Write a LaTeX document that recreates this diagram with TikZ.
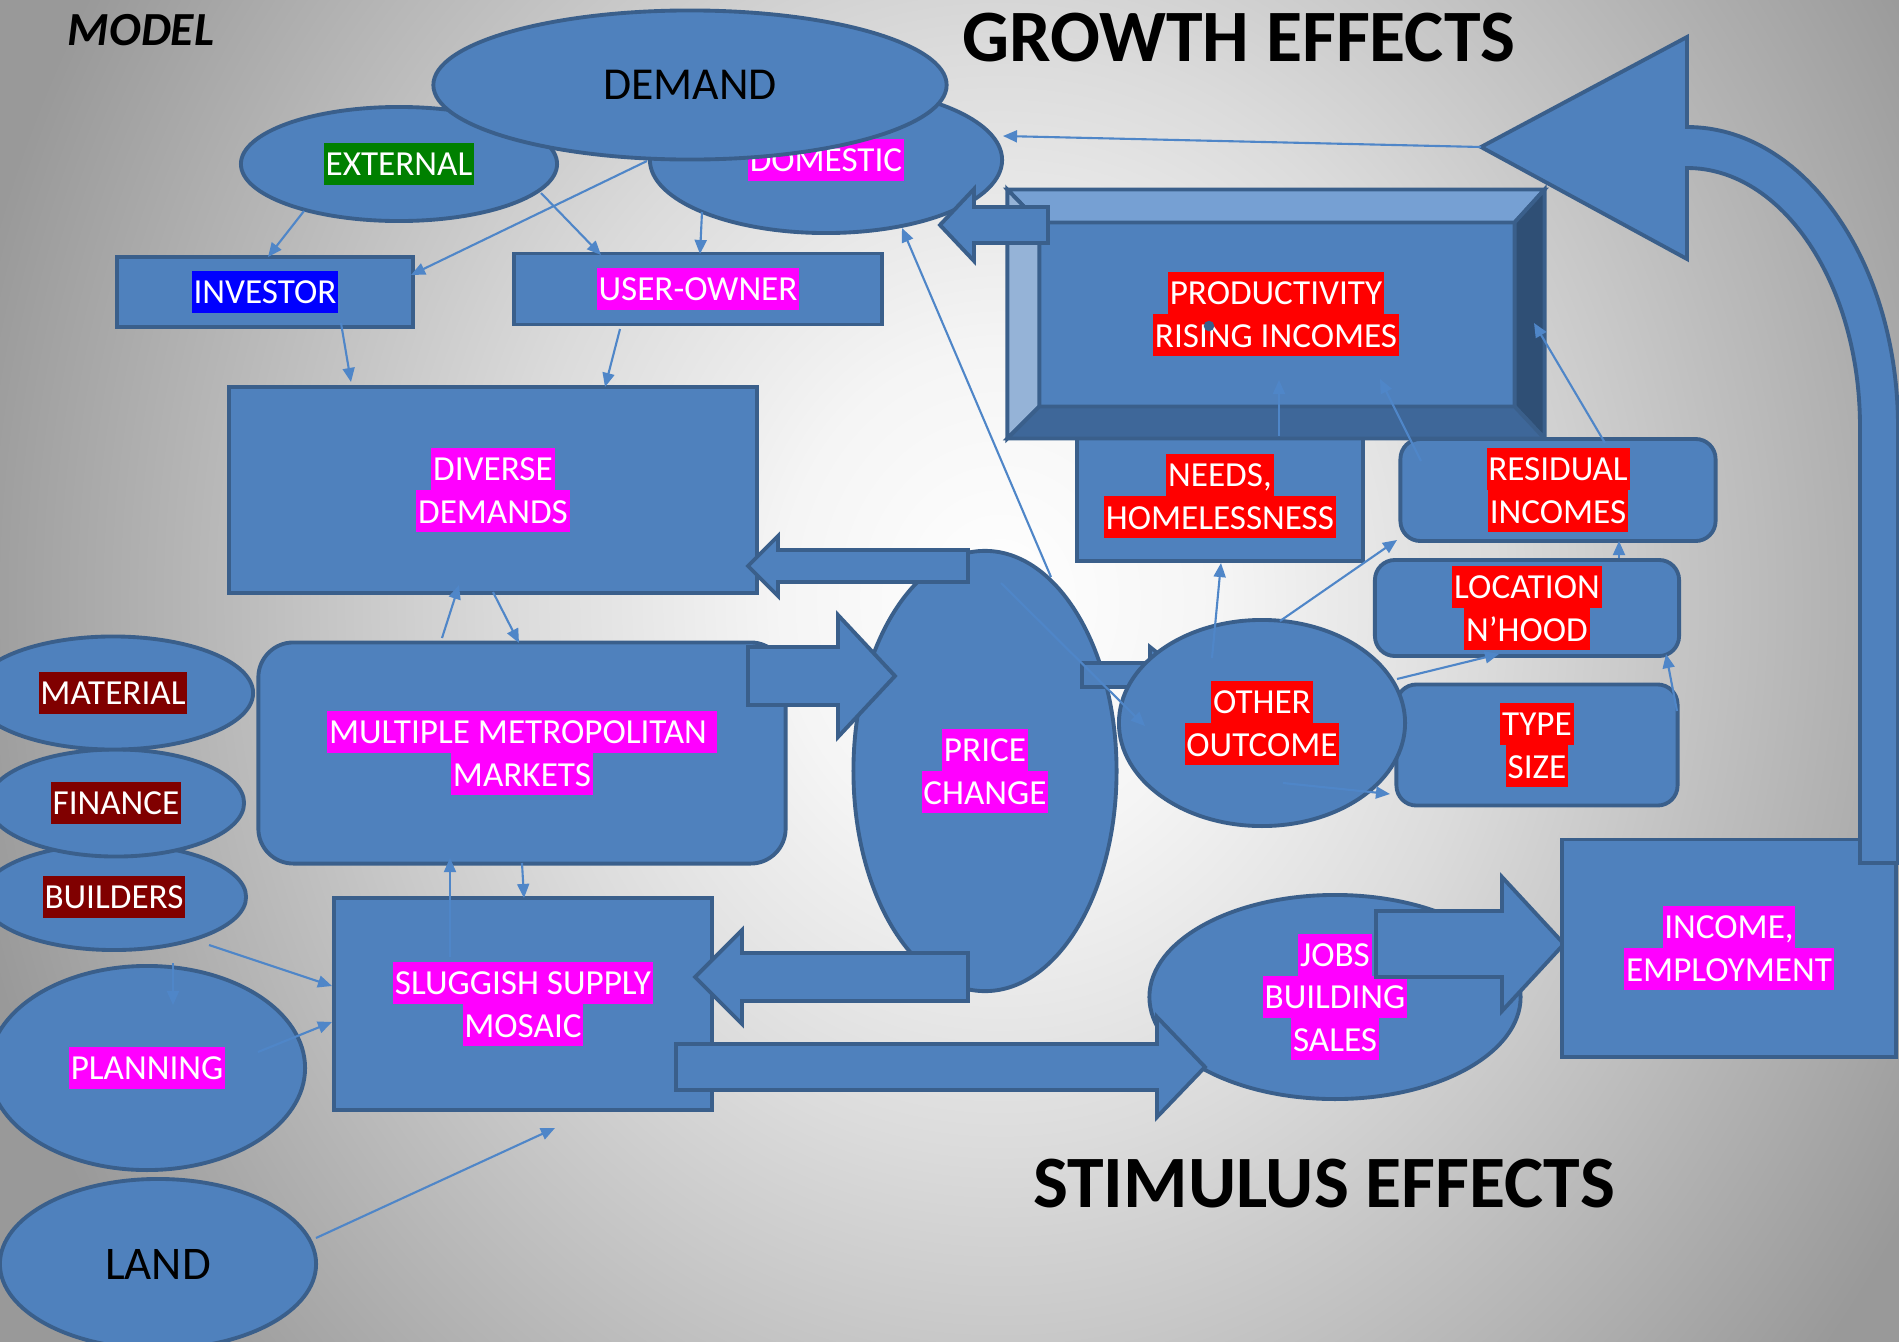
\documentclass[tikz,border=0pt]{standalone}
\usepackage{fontspec}
\setmainfont{Carlito}
\usepackage{tikz}
\usetikzlibrary{shapes,arrows.meta,calc}

\definecolor{boxblue}{HTML}{4F81BD}
\definecolor{boxedge}{HTML}{3A5F8B}
\definecolor{linkblue}{HTML}{4F86C8}
\definecolor{bevtop}{HTML}{76A0D3}
\definecolor{bevleft}{HTML}{95B3D7}
\definecolor{bevright}{HTML}{2F4F75}
\definecolor{bevbottom}{HTML}{3E6799}
\definecolor{hlmag}{HTML}{FF00FF}
\definecolor{hlred}{HTML}{FF0000}
\definecolor{hlmaroon}{HTML}{800000}
\definecolor{hlgreen}{HTML}{008000}
\definecolor{hlblue}{HTML}{0000FF}
\definecolor{bgA}{gray}{0.96}
\definecolor{bgB}{gray}{0.86}
\definecolor{bgC}{gray}{0.73}
\definecolor{bgrim}{gray}{0.6}

% the path edge sits at 25bp of the shading
\pgfdeclareradialshading{bgglow}{\pgfpoint{0bp}{0bp}}{color(0bp)=(white); color(5bp)=(bgA); color(11bp)=(bgB); color(17.5bp)=(bgC); color(24bp)=(bgrim); color(50bp)=(bgrim)}

\newcommand{\labelfont}{\fontsize{10}{12}\selectfont}
\newcommand{\hlbox}[2]{{\setlength{\fboxsep}{0pt}\colorbox{#1}{\rule[-2.6pt]{0pt}{12pt}\kern0.5pt\textcolor{white}{#2}\kern0.5pt}}}
% fat arrow: tail x, head base x, tip x, y, shaft half, head half
\newcommand{\fatarrow}[6]{\draw[fat] (#1,#4-#5) -- (#2,#4-#5) -- (#2,#4-#6) -- (#3,#4) -- (#2,#4+#6) -- (#2,#4+#5) -- (#1,#4+#5) -- cycle;}

\tikzset{
  blob/.style={draw=boxedge, fill=boxblue, line width=1.1pt, inner sep=0pt, align=center, font=\labelfont},
  oval/.style={blob, ellipse},
  panel/.style={blob, rectangle},
  rpanel/.style={blob, rectangle, rounded corners=0.2cm},
  link/.style={draw=linkblue, line width=0.6pt, -{Triangle[length=4pt,width=3.4pt]}},
  fat/.style={draw=boxedge, fill=boxblue, line width=1.1pt},
  headline/.style={inner sep=0pt, font=\bfseries\fontsize{21}{25}\selectfont},
}

\begin{document}
\begin{tikzpicture}[x=0.01cm, y=-0.01cm]
\useasboundingbox (0,0) rectangle (1899,1342);

% background
\fill[bgrim] (0,0) rectangle (1899,1342);
\begin{scope}
\clip (0,0) rectangle (1899,1342);
\shade[shading=bgglow] (1000,600) ellipse[x radius=11cm, y radius=12.5cm];
\end{scope}

% demand
\node[oval, minimum width=3.16cm, minimum height=1.14cm] (ext) at (399,164) {\hlbox{hlgreen}{EXTERNAL}};
\node[oval, minimum width=3.52cm, minimum height=1.46cm] (dom) at (826,160) {\hlbox{hlmag}{DOMESTIC}};
\node[oval, minimum width=5.13cm, minimum height=1.49cm, font=\fontsize{13}{15}\selectfont] (dem) at (690,85) {DEMAND};
\node[panel, minimum width=2.95cm, minimum height=0.70cm] (inv) at (265,292) {\hlbox{hlblue}{INVESTOR}};
\node[panel, minimum width=3.67cm, minimum height=0.71cm] (usr) at (698,289) {\hlbox{hlmag}{USER-OWNER}};
\node[panel, minimum width=5.28cm, minimum height=2.06cm] (div) at (493,490) {\hlbox{hlmag}{DIVERSE}\\\hlbox{hlmag}{DEMANDS}};

% supply
\node[panel, rounded corners=0.35cm, minimum width=5.27cm, minimum height=2.21cm] (mkt) at (522,753) {\hlbox{hlmag}{MULTIPLE METROPOLITAN\ }\\\hlbox{hlmag}{MARKETS}};
\node[oval, minimum width=2.64cm, minimum height=1.06cm] (bld) at (114,897) {\hlbox{hlmaroon}{BUILDERS}};
\node[oval, minimum width=2.56cm, minimum height=1.07cm] (fin) at (116,803) {\hlbox{hlmaroon}{FINANCE}};
\node[oval, minimum width=2.80cm, minimum height=1.13cm] (mat) at (113,693) {\hlbox{hlmaroon}{MATERIAL}};
\node[oval, minimum width=3.16cm, minimum height=2.04cm] (pln) at (147,1068) {\hlbox{hlmag}{PLANNING}};
\node[oval, minimum width=3.16cm, minimum height=1.70cm, font=\fontsize{13.3}{15}\selectfont] (lnd) at (158,1264) {LAND};
\node[panel, minimum width=3.77cm, minimum height=2.12cm] (slg) at (523,1004) {\hlbox{hlmag}{SLUGGISH SUPPLY}\\\hlbox{hlmag}{MOSAIC}};

% growth
\node[panel, minimum width=2.85cm, minimum height=1.30cm] (ned) at (1220,496) {\hlbox{hlred}{NEEDS,}\\\hlbox{hlred}{HOMELESSNESS}};
\node[panel, minimum width=5.33cm, minimum height=2.45cm] (prd) at (1276,314) {\hlbox{hlred}{PRODUCTIVITY}\\\hlbox{hlred}{RISING INCOMES}};
\coordinate (pinw) at ([shift={(32,33)}]prd.north west);
\coordinate (pine) at ([shift={(-30,33)}]prd.north east);
\coordinate (pise) at ([shift={(-30,-32)}]prd.south east);
\coordinate (pisw) at ([shift={(32,-32)}]prd.south west);
\draw[fat, fill=bevtop] (prd.north west) -- (prd.north east) -- (pine) -- (pinw) -- cycle;
\draw[fat, fill=bevleft] (prd.north west) -- (pinw) -- (pisw) -- (prd.south west) -- cycle;
\draw[fat, fill=bevright] (prd.north east) -- (prd.south east) -- (pise) -- (pine) -- cycle;
\draw[fat, fill=bevbottom] (prd.south west) -- (pisw) -- (pise) -- (prd.south east) -- cycle;
\fill[boxedge] (1209,326) circle[radius=1.5pt];
\node[rpanel, minimum width=3.15cm, minimum height=1.02cm] (res) at (1558,490) {\hlbox{hlred}{RESIDUAL}\\\hlbox{hlred}{INCOMES}};
\node[rpanel, minimum width=3.04cm, minimum height=0.96cm] (loc) at (1527,608) {\hlbox{hlred}{LOCATION}\\\hlbox{hlred}{N’HOOD}};
\node[rpanel, minimum width=2.81cm, minimum height=1.21cm] (typ) at (1537,745) {\hlbox{hlred}{TYPE}\\\hlbox{hlred}{SIZE}};

% price and the fat arrows round it
\node[oval, minimum width=2.63cm, minimum height=4.40cm] (prc) at (985,771) {\hlbox{hlmag}{PRICE}\\\hlbox{hlmag}{CHANGE}};
\fatarrow{968}{778}{748}{566}{16}{30}
\fatarrow{748}{838}{895}{676}{29}{61}
\fatarrow{968}{742}{695}{977}{24}{47}
\fatarrow{1082}{1150}{1185}{675}{12}{28}
\node[oval, minimum width=2.86cm, minimum height=2.06cm] (oth) at (1262,723) {\hlbox{hlred}{OTHER}\\\hlbox{hlred}{OUTCOME}};

% stimulus
\node[oval, minimum width=3.71cm, minimum height=2.04cm] (job) at (1335,997) {\hlbox{hlmag}{JOBS}\\\hlbox{hlmag}{BUILDING}\\\hlbox{hlmag}{SALES}};
\fatarrow{676}{1157}{1205}{1067}{23}{50}
\fatarrow{1376}{1502}{1564}{944}{33}{67}
\node[panel, minimum width=3.33cm, minimum height=2.17cm] (inc) at (1729,948) {\hlbox{hlmag}{INCOME,}\\\hlbox{hlmag}{EMPLOYMENT}};

% feedback to demand
\draw[fat] (1481,147) -- (1687,37) -- (1687,127) arc[start angle=-90, end angle=0, x radius=211, y radius=300]
  -- (1898,863) -- (1860,863) -- (1860,427) arc[start angle=0, end angle=-90, x radius=173, y radius=259]
  -- (1687,259) -- cycle;
\coordinate (utip) at (1481,147);
\fatarrow{1048}{974}{940}{225}{18}{36}

% thin links
\draw[link] ([shift={(-95,47)}]ext.center) -- ([shift={(3,-35)}]inv.center);
\draw[link] ([shift={(142,29)}]ext.center) -- ([shift={(-97,-34)}]usr.center);
\draw[link] ([shift={(-43,76)}]dem.center) -- ([shift={(146,-17)}]inv.center);
\draw[link] ([shift={(-124,52)}]dom.center) -- ([shift={(2,-35)}]usr.center);
\draw[link] ([shift={(76,31)}]inv.center) -- ([shift={(-142,-108)}]div.center);
\draw[link] ([shift={(-78,40)}]usr.center) -- ([shift={(112,-103)}]div.center);
\draw[link] ([shift={(66,-194)}]prc.center) -- ([shift={(76,68)}]dom.center);
\draw[link] (utip) -- ([shift={(177,-24)}]dom.center);
\draw[link] ([shift={(-80,-115)}]mkt.center) -- ([shift={(-34,95)}]div.center);
\draw[link] ([shift={(0,102)}]div.center) -- ([shift={(-3,-110)}]mkt.center);
\draw[link] ([shift={(-73,-47)}]slg.center) -- ([shift={(-72,105)}]mkt.center);
\draw[link] ([shift={(0,110)}]mkt.center) -- ([shift={(1,-106)}]slg.center);
\draw[link] ([shift={(95,48)}]bld.center) -- ([shift={(-191,-18)}]slg.center);
\draw[link] ([shift={(111,-16)}]pln.center) -- ([shift={(-191,18)}]slg.center);
\draw[link] ([shift={(59,66)}]bld.center) -- ([shift={(26,-63)}]pln.center);
\draw[link] ([shift={(158,-26)}]lnd.center) -- ([shift={(32,124)}]slg.center);
\draw[link] ([shift={(16,-188)}]prc.center) -- ([shift={(-117,3)}]oth.center);
\draw[link] ([shift={(-50,-65)}]oth.center) -- ([shift={(1,67)}]ned.center);
\draw[link] ([shift={(18,-102)}]oth.center) -- ([shift={(-161,50)}]res.center);
\draw[link] ([shift={(135,-44)}]oth.center) -- ([shift={(-28,46)}]loc.center);
\draw[link] ([shift={(21,60)}]oth.center) -- ([shift={(-147,49)}]typ.center);
\draw[link] ([shift={(140,-34)}]typ.center) -- ([shift={(139,46)}]loc.center);
\draw[link] ([shift={(92,-50)}]loc.center) -- ([shift={(61,51)}]res.center);
\draw[link] ([shift={(47,-47)}]res.center) -- ([shift={(258,9)}]prd.center);
\draw[link] ([shift={(59,-60)}]ned.center) -- ([shift={(3,66)}]prd.center);
\draw[link] ([shift={(-137,-29)}]res.center) -- ([shift={(104,65)}]prd.center);

% titles
\node[inner sep=0pt, font=\bfseries\itshape\fontsize{13.5}{16}\selectfont] (model) at (141,30) {MODEL};
\node[headline] (growth) at (1239,38) {GROWTH EFFECTS};
\node[headline] (stimulus) at (1324,1184) {STIMULUS EFFECTS};

\end{tikzpicture}
\end{document}
